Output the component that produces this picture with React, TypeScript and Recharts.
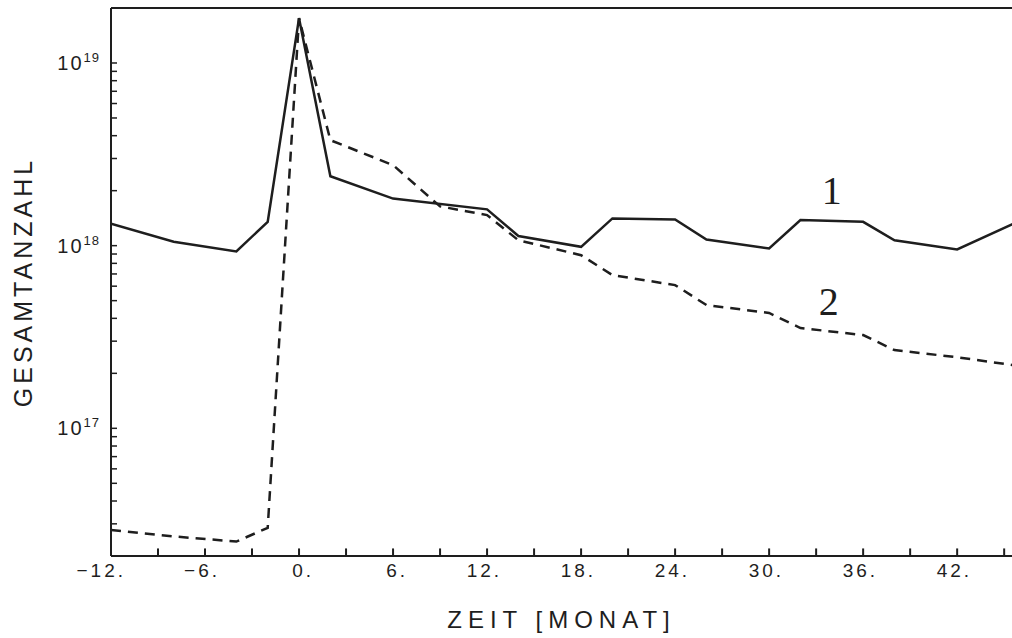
import { LineChart, Line, XAxis, YAxis, ReferenceLine, ReferenceDot, Label } from 'recharts'

// Kurve 1 (durchgezogen)
const monate1 = [-12, -8, -4, -2, 0, 2, 6, 12, 14, 18, 20, 24, 26, 30, 32, 36, 38, 42, 46]
const anzahl1 = [
  1.32e18, 1.05e18, 9.3e17, 1.35e18, 1.76e19, 2.4e18, 1.81e18, 1.58e18, 1.13e18, 9.85e17,
  1.41e18, 1.39e18, 1.08e18, 9.66e17, 1.38e18, 1.35e18, 1.07e18, 9.53e17, 1.37e18,
]

// Kurve 2 (gestrichelt)
const monate2 = [-12, -8, -4, -2, 0, 2, 6, 9, 12, 14, 18, 20, 24, 26, 30, 32, 36, 38, 42, 46]
const anzahl2 = [
  2.78e16, 2.56e16, 2.4e16, 2.85e16, 1.76e19, 3.78e18, 2.76e18, 1.64e18, 1.47e18, 1.07e18,
  8.87e17, 6.9e17, 6.08e17, 4.73e17, 4.28e17, 3.54e17, 3.24e17, 2.68e17, 2.45e17, 2.19e17,
]

const xTicks = [-12, -9, -6, -3, 0, 3, 6, 9, 12, 15, 18, 21, 24, 27, 30, 33, 36, 39, 42, 45]
const xLabels = [-12, -6, 0, 6, 12, 18, 24, 30, 36, 42]
const dekaden = [1e16, 1e17, 1e18]
const mantissen = [1, 2, 3, 4, 5, 6, 7, 8, 9]
const yTicks = [...dekaden.flatMap((d) => mantissen.map((m) => m * d)).filter((v) => v >= 2e16), 1e19]

const yMin = 2e16
const yMax = 2e19

const serie1 = monate1.map((m, i) => ({ monat: m, wert: anzahl1[i] }))
const serie2 = monate2.map((m, i) => ({ monat: m, wert: anzahl2[i] }))

const ink = '#1e1e1e'
const sans = '"Liberation Sans", Arial, sans-serif'

function XTick({ x, y, payload }: any) {
  const m = payload.value
  if (!xLabels.includes(m)) return <g />
  return (
    <text x={x + 15} y={y + 21} textAnchor="end" fontSize={19} letterSpacing={3}
      fill={ink} fontFamily={sans}>
      {(m < 0 ? '\u2212' + Math.abs(m) : String(m)) + '.'}
    </text>
  )
}

function YTick({ x, y, payload }: any) {
  const v = payload.value
  const exp = Math.round(Math.log10(v))
  if (Math.abs(Math.log10(v) - exp) > 1e-6) return <g />
  return (
    <text x={x - 11} y={y + 7} textAnchor="end" fontSize={20} letterSpacing={2} fill={ink} fontFamily={sans}>
      10<tspan dy={-8} fontSize={13} letterSpacing={1}>{exp}</tspan>
    </text>
  )
}

export default function App() {
  return (
    <div style={{ position: 'fixed', left: 0, top: 0, background: '#fff' }}>
      <LineChart width={1012} height={638} margin={{ top: 8, right: 0, bottom: 0, left: 0 }}>
        <XAxis
          dataKey="monat"
          type="number"
          domain={[-12, 45.5]}
          allowDataOverflow
          ticks={xTicks}
          interval={0}
          tick={<XTick />}
          tickLine={false}
          tickSize={0}
          tickMargin={0}
          height={82}
          axisLine={{ stroke: ink, strokeWidth: 2 }}
        >
          <Label value="ZEIT [MONAT]" position="insideBottom" offset={10}
            style={{ fontSize: 24, letterSpacing: 6, fill: ink, fontFamily: sans }} />
        </XAxis>
        <YAxis
          dataKey="wert"
          scale="log"
          domain={[yMin, yMax]}
          allowDataOverflow
          ticks={yTicks}
          interval={0}
          tick={<YTick />}
          tickLine={{ stroke: ink, strokeWidth: 1.5 }}
          tickSize={-6}
          tickMargin={6}
          width={111}
          axisLine={{ stroke: ink, strokeWidth: 2 }}
        >
          <Label value="GESAMTANZAHL" angle={-90} position="insideLeft" offset={23}
            style={{ fontSize: 25, letterSpacing: 4, fill: ink, fontFamily: sans, textAnchor: 'middle' }} />
        </YAxis>
        <ReferenceLine y={yMax} stroke={ink} strokeWidth={2} ifOverflow="visible" />
        {/* nach innen zeigende Striche an der Zeitachse */}
        {xTicks.map((m) => (
          <ReferenceLine key={m} segment={[{ x: m, y: yMin }, { x: m, y: yMin * 1.1 }]}
            stroke={ink} strokeWidth={2} ifOverflow="visible" />
        ))}
        <Line data={serie1} dataKey="wert" type="linear" stroke={ink} strokeWidth={2.5}
          dot={false} isAnimationActive={false} />
        <Line data={serie2} dataKey="wert" type="linear" stroke={ink} strokeWidth={2.5}
          strokeDasharray="10 7" dot={false} isAnimationActive={false} />
        <ReferenceDot x={34} y={2.02e18} r={0} fill="none" stroke="none" ifOverflow="visible"
          label={{ value: '1', position: 'center', fontSize: 40, fill: ink, fontFamily: '"Liberation Serif", serif' }} />
        <ReferenceDot x={33.8} y={4.99e17} r={0} fill="none" stroke="none" ifOverflow="visible"
          label={{ value: '2', position: 'center', fontSize: 40, fill: ink, fontFamily: '"Liberation Serif", serif' }} />
      </LineChart>
    </div>
  )
}
